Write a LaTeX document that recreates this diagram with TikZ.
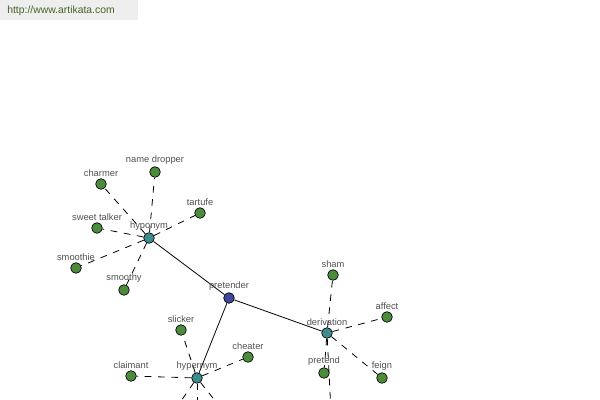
\documentclass[tikz,border=0pt]{standalone}
\usepackage{fontspec}
\setmainfont{Liberation Sans}
\usetikzlibrary{backgrounds}

\definecolor{leafgreen}{RGB}{76,138,60}
\definecolor{hubteal}{RGB}{62,140,140}
\definecolor{rootblue}{RGB}{62,72,150}
\definecolor{labelgray}{RGB}{80,80,80}
\definecolor{headgray}{RGB}{238,238,238}
\definecolor{headtext}{RGB}{70,100,40}

\begin{document}
\begin{tikzpicture}[x=0.75pt,y=-0.75pt,
    dot/.style={circle,draw=black,line width=0.5pt,inner sep=0pt,minimum size=8pt},
    leaf/.style={dot,fill=leafgreen},
    hub/.style={dot,fill=hubteal},
    root/.style={dot,fill=rootblue},
    lbl/.style={font=\fontsize{7}{8}\selectfont,text=labelgray,inner sep=1pt},
    every label/.style={lbl},
    link/.style={draw=black,line width=0.6pt},
    rel/.style={draw=black,line width=0.6pt,dash pattern=on 5pt off 5pt}]
    \useasboundingbox (0,0) rectangle (600,400);
    \clip (0,0) rectangle (600,400);

    % header
    \fill[headgray] (0,0) rectangle (138,20);
    \node[anchor=west,font=\fontsize{7.8}{9}\selectfont,text=headtext,inner sep=0pt] (site) at (7,11) {http://www.artikata.com};

    % hubs
    \node[root,label=above:pretender] (pretender) at (229,298) {};
    \node[hub,label=above:hyponym] (hyponym) at (149,238) {};
    \node[hub,label=above:derivation] (derivation) at (327,333) {};
    \node[hub,label=above:hypernym] (hypernym) at (197,378) {};

    % hyponym leaves
    \node[leaf,label=above:name dropper] (namedropper) at (155,172) {};
    \node[leaf,label=above:charmer] (charmer) at (101,184) {};
    \node[leaf,label=above:tartufe] (tartufe) at (200,213) {};
    \node[leaf,label=above:sweet talker] (sweettalker) at (97,228) {};
    \node[leaf,label=above:smoothie] (smoothie) at (76,268) {};
    \node[leaf,label=above:smoothy] (smoothy) at (124,290) {};

    % derivation leaves
    \node[leaf,label=above:sham] (sham) at (333,275) {};
    \node[leaf,label=above:affect] (affect) at (387,317) {};
    \node[leaf,label=above:pretend] (pretend) at (324,373) {};
    \node[leaf,label=above:feign] (feign) at (382,378) {};
    \node[leaf] (derivlow) at (331,412) {};

    % hypernym leaves
    \node[leaf,label=above:slicker] (slicker) at (181,330) {};
    \node[leaf,label=above:cheater] (cheater) at (248,357) {};
    \node[leaf,label=above:claimant] (claimant) at (131,376) {};
    \node[leaf] (hyperlowa) at (172,414) {};
    \node[leaf] (hyperlowb) at (197,418) {};
    \node[leaf] (hyperlowc) at (224,412) {};

    \begin{scope}[on background layer]
    \draw[link] (pretender) -- (hyponym);
    \draw[link] (pretender) -- (derivation);
    \draw[link] (pretender) -- (hypernym);

    \foreach \n in {namedropper,charmer,tartufe,sweettalker,smoothie,smoothy}
        \draw[rel] (hyponym) -- (\n);
    \foreach \n in {sham,affect,pretend,feign,derivlow}
        \draw[rel] (derivation) -- (\n);
    \foreach \n in {slicker,cheater,claimant,hyperlowa,hyperlowb,hyperlowc}
        \draw[rel] (hypernym) -- (\n);
    \end{scope}
\end{tikzpicture}
\end{document}
